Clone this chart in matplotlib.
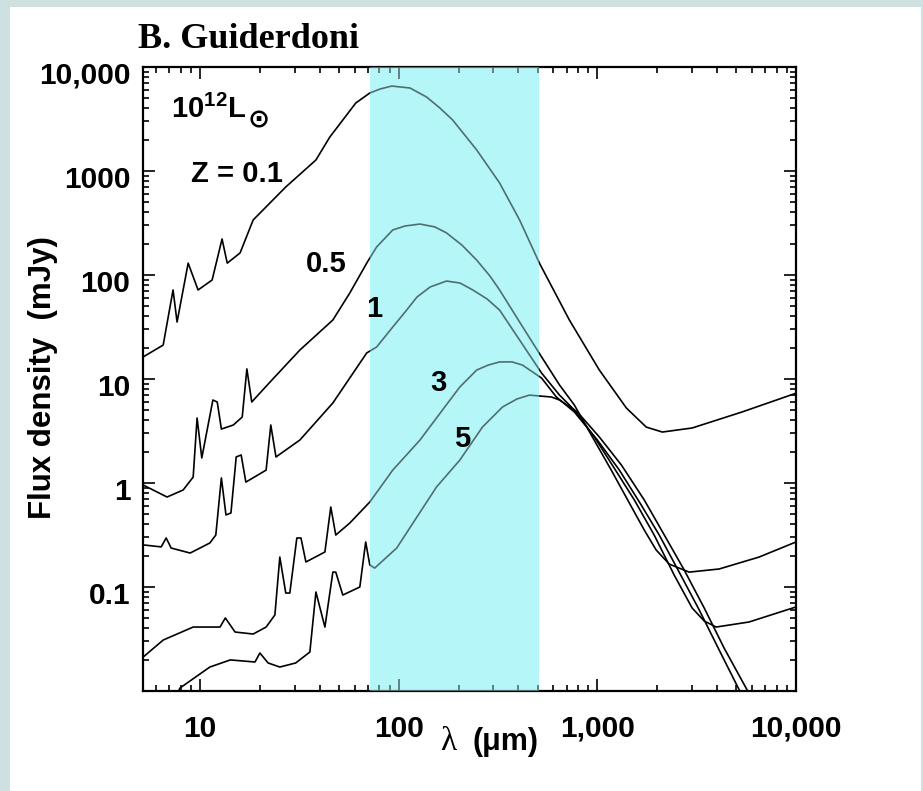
#!/usr/bin/env python3
import matplotlib
matplotlib.use('Agg')
import matplotlib.pyplot as plt
import matplotlib.transforms as mtransforms
from matplotlib.patches import Rectangle
from matplotlib.ticker import LogLocator, NullFormatter

# Model SEDs of a 10^12 Lsun galaxy seen at several redshifts.
# wavelength in micron, flux density in mJy
wl_z01 = [5.17, 6.52, 7.31, 7.66, 8.71, 9.77, 11.5, 12.9, 13.7, 15.9, 18.5, 27.0,
          38.3, 45.0, 52.3, 60.8, 71.5, 80.5, 92.2, 114, 138, 161, 187, 247, 322,
          406, 511, 723, 1023, 1400, 1762, 2123, 3000, 5355, 10000]
flux_z01 = [16.3, 21.2, 71.8, 35.3, 130, 71.8, 89.5, 222, 130, 163, 338, 702,
            1276, 2123, 3090, 4510, 5620, 6140, 6560, 6280, 5150, 4040, 3090, 1592,
            767, 338, 130, 36.9, 12.2, 5.26, 3.45, 3.09, 3.38, 4.82, 7.3]

wl_z05 = [5.17, 6.82, 8.22, 9.23, 9.66, 10.2, 11.6, 12.2, 12.8, 14.7, 16.3, 17.2,
          18.2, 22.5, 31.8, 46.6, 56.7, 69.0, 77.4, 93.3, 107.6, 128, 152, 174,
          208, 247, 288, 322, 406, 524, 645, 766, 944, 1175, 1449, 1722, 1977, 2301,
          2897, 4103, 6516, 10000]
flux_z05 = [0.957, 0.733, 0.857, 1.14, 4.22, 1.74, 6.28, 6.01, 3.30, 3.61, 4.31,
            12.5, 6.01, 9.35, 19.0, 36.9, 67.1, 130, 186, 271, 296, 309, 290, 254,
            194, 139, 97.7, 71.8, 35.3, 16.3, 8.75, 5.62, 2.77, 1.33, 0.642, 0.353,
            0.227, 0.166, 0.139, 0.149, 0.194, 0.271]

wl_z1 = [5.17, 6.37, 6.75, 7.15, 8.91, 11.2, 12.0, 12.8, 13.5, 14.3, 15.2, 16.1,
         17.0, 21.5, 22.7, 24.1, 31.8, 46.6, 69.0, 77.4, 93.3, 107.6, 123.6, 143.9,
         174, 203.6, 236, 278.6, 322, 406, 524, 645, 766, 966, 1216, 1535, 1932,
         2438, 3000, 3451, 3963, 5808, 10000]
flux_z1 = [0.254, 0.243, 0.296, 0.237, 0.212, 0.265, 0.316, 1.12, 0.493, 0.515,
           1.78, 1.86, 1.02, 1.33, 3.61, 1.78, 2.59, 5.88, 17.8, 20.3, 31.6, 44.0,
           61.4, 76.7, 87.5, 83.7, 71.8, 58.8, 46.0, 23.7, 11.4, 7.0, 5.03, 2.77,
           1.39, 0.687, 0.316, 0.130, 0.0628, 0.0471, 0.0412, 0.0461, 0.0643]

wl_z3 = [5.17, 6.52, 9.23, 12.6, 13.4, 15.0, 18.5, 21.5, 23.8, 25.2, 27.0, 28.3,
         30.7, 32.2, 34.1, 42.5, 45.5, 48.2, 56.7, 71.5, 93.3, 128, 166, 203, 247,
         282, 322, 372, 420, 524, 622, 766, 1000, 1291, 1663, 2049, 2582, 3258,
         4103, 5240]
flux_z3 = [0.0212, 0.0309, 0.0412, 0.0412, 0.0504, 0.0369, 0.0353, 0.0412, 0.0538,
           0.194, 0.0875, 0.0875, 0.296, 0.296, 0.174, 0.217, 0.588, 0.316, 0.412,
           0.656, 1.33, 2.59, 5.03, 8.37, 12.2, 13.6, 14.6, 14.6, 13.6, 10.2, 6.71,
           4.82, 2.59, 1.33, 0.614, 0.316, 0.139, 0.0601, 0.0248, 0.0098]

wl_z5 = [7.75, 7.93, 11.2, 14.2, 18.9, 20.0, 22.0, 25.2, 30.3, 35.7, 38.3, 42.5,
         46.6, 48.2, 52.3, 63.7, 68.2, 71.5, 75.7, 97.7, 155, 203, 264, 333, 394,
         455, 588, 645, 793, 1023, 1321, 1722, 2173, 2735, 3451, 4345, 5745]
flux_z5 = [0.0098, 0.0107, 0.0170, 0.0199, 0.0190, 0.0232, 0.0186, 0.0170, 0.0186,
           0.0237, 0.0895, 0.0412, 0.139, 0.139, 0.0837, 0.1, 0.271, 0.163, 0.152,
           0.237, 0.916, 1.66, 3.45, 5.38, 6.43, 7.0, 6.71, 6.28, 4.82, 2.77, 1.49,
           0.687, 0.316, 0.146, 0.0628, 0.0259, 0.0098]

curves = [(wl_z01, flux_z01), (wl_z05, flux_z05), (wl_z1, flux_z1),
          (wl_z3, flux_z3), (wl_z5, flux_z5)]

band_lo, band_hi = 72, 510

xticks = [10, 100, 1000, 10000]
xtick_labels = ['10', '100', '1,000', '10,000']
yticks = [0.1, 1, 10, 100, 1000, 10000]
ytick_labels = ['0.1', '1', '10', '100', '1000', '10,000']

sans = 'Liberation Sans'
plt.rcParams['mathtext.fontset'] = 'custom'
plt.rcParams['mathtext.rm'] = 'Liberation Sans:bold'
plt.rcParams['mathtext.bf'] = 'Liberation Sans:bold'

W, H = 923, 791
fig = plt.figure(figsize=(W / 100, H / 100), dpi=100)
fig.patch.set_facecolor('#cfe0e0')
fig.patches.append(Rectangle((10 / W, 0), 911 / W, (H - 7) / H,
                             transform=fig.transFigure, facecolor='white',
                             edgecolor='none', zorder=-5))

ax = fig.add_axes([143 / W, 1 - 691 / H, (796 - 143) / W, (691 - 67) / H])
ax.set_zorder(1)
ax.set_xscale('log')
ax.set_yscale('log')
ax.set_xlim(5.16, 10000)
ax.set_ylim(0.01, 10000)

ax.axvspan(band_lo, band_hi, color='#b5f6f8', lw=0, zorder=0)
for wl, fl in curves:
    ax.plot(wl, fl, color='black', lw=1.2, zorder=2, solid_joinstyle='round')
# lines inside the band look greyish-teal in the scan
ax.axvspan(band_lo, band_hi, color='#b5f6f8', alpha=0.45, lw=0, zorder=3)

ax.set_xticks(xticks)
ax.set_xticklabels(xtick_labels)
ax.set_yticks(yticks)
ax.set_yticklabels(ytick_labels)
for axis in (ax.xaxis, ax.yaxis):
    axis.set_minor_locator(LogLocator(base=10, subs=range(2, 10), numticks=20))
    axis.set_minor_formatter(NullFormatter())
ax.tick_params(which='both', direction='in', top=True, right=True, width=1.2)
ax.tick_params(which='major', length=8.5)
ax.tick_params(which='minor', length=4)
ax.tick_params(axis='x', which='major', pad=17)
ax.tick_params(axis='y', which='major', pad=9)
for lab in ax.get_xticklabels() + ax.get_yticklabels():
    lab.set_fontfamily(sans)
    lab.set_fontweight('bold')
    lab.set_fontsize(21.5)
shift = mtransforms.ScaledTranslation(0, -6 / 100, fig.dpi_scale_trans)
for lab in ax.get_yticklabels():
    lab.set_transform(lab.get_transform() + shift)
for sp in ax.spines.values():
    sp.set_linewidth(1.6)

# labels inside the plot
txt = dict(fontfamily=sans, fontweight='bold', fontsize=21, zorder=5)
ax.text(7.15, 3236, r'$\mathbf{10^{12}L}$', ha='left', va='baseline', **txt)
ax.text(17.4, 2650, '⊙', fontfamily='DejaVu Sans', fontweight='bold',
        fontsize=19, ha='left', va='baseline', zorder=5)
ax.text(9.0, 783, 'Z = 0.1', ha='left', va='baseline', **txt)
ax.text(43.1, 107, '0.5', ha='center', va='baseline', **txt)
ax.text(75.2, 39.4, '1', ha='center', va='baseline', **txt)
ax.text(158, 7.67, '3', ha='center', va='baseline', **txt)
ax.text(208, 2.22, '5', ha='center', va='baseline', **txt)

fig.text(138 / W, 1 - 48 / H, 'B. Guiderdoni', fontfamily='Liberation Serif',
         fontweight='bold', fontsize=26, ha='left', va='baseline')
fig.text(43 / W, 1 - 378 / H, 'Flux density  (mJy)', fontfamily=sans,
         fontweight='bold', fontsize=22.5, rotation=90, ha='center', va='center')
fig.text(448 / W, 1 - 750 / H, 'λ', fontfamily='Liberation Serif', fontsize=24,
         ha='center', va='baseline')
fig.text(473 / W, 1 - 750 / H, '(μm)', fontfamily=sans, fontweight='bold',
         fontsize=22, ha='left', va='baseline')

fig.savefig('out.png', dpi=100, facecolor=fig.get_facecolor())
